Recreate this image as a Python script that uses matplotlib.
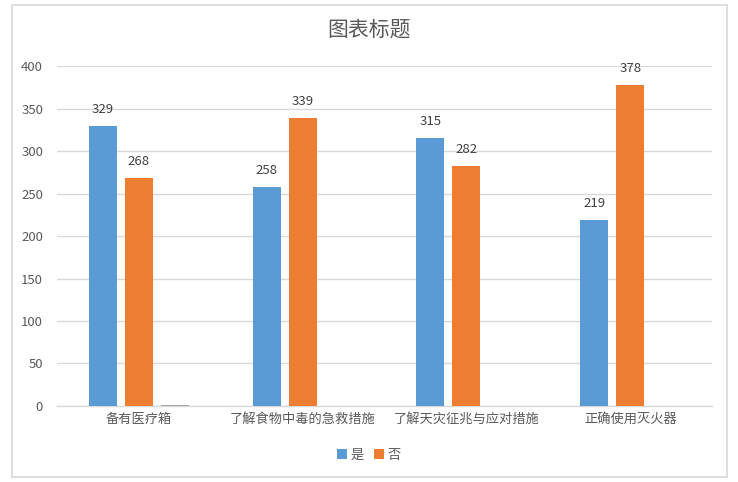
import numpy as np
from matplotlib import pyplot as plt
from matplotlib.patches import Rectangle

plt.rcParams['font.family'] = ['Noto Sans CJK SC', 'DejaVu Sans']

categories = ['备有医疗箱', '了解食物中毒的急救措施', '了解天灾征兆与应对措施', '正确使用灭火器']
yes_vals = [329, 258, 315, 219]
no_vals = [268, 339, 282, 378]
third_vals = [1.5, 0, 0, 0]

fig = plt.figure(figsize=(7.38, 4.82), dpi=100)
ax = fig.add_axes([0.0772, 0.1577, 0.8878, 0.7053])

x = np.arange(len(categories))
w = 0.171
off = 0.22
b1 = ax.bar(x - off, yes_vals, w, color='#5B9BD5', label='是', zorder=3)
b2 = ax.bar(x, no_vals, w, color='#ED7D31', label='否', zorder=3)
ax.bar(x + off, third_vals, w, color='#A5A5A5', zorder=3)

for bars in (b1, b2):
    for r in bars:
        ax.text(r.get_x() + r.get_width() / 2, r.get_height() + 12, str(int(r.get_height())),
                ha='center', va='bottom', fontsize=9.5, color='#404040')

ax.set_xlim(-0.5, 3.5)
ax.set_ylim(0, 400)
ax.set_yticks(range(0, 401, 50))
ax.set_xticks(x)
ax.set_xticklabels(categories, fontsize=9.5, color='#595959')
ax.tick_params(axis='y', labelsize=9.5, labelcolor='#595959', length=0, pad=10)
ax.tick_params(axis='x', length=0, pad=5)
ax.grid(axis='y', color='#D9D9D9', linewidth=1, zorder=0)
for s in ['top', 'right', 'left']:
    ax.spines[s].set_visible(False)
ax.spines['bottom'].set_color('#D9D9D9')
ax.spines['bottom'].set_linewidth(1)

fig.text(0.5, 0.938, '图表标题', ha='center', va='center', fontsize=15, color='#595959')

fig.legend(handles=[b1, b2], loc='center', bbox_to_anchor=(0.5, 0.056), ncol=2, frameon=False,
           fontsize=9.5, handlelength=0.7, handleheight=0.7, handletextpad=0.3, columnspacing=0.8,
           labelcolor='#595959')

fig.patches.append(Rectangle((12 / 738, 5 / 482), 715 / 738, 472 / 482, transform=fig.transFigure,
                             fill=False, edgecolor='#D9D9D9', linewidth=1.2))

plt.savefig('out.png')
